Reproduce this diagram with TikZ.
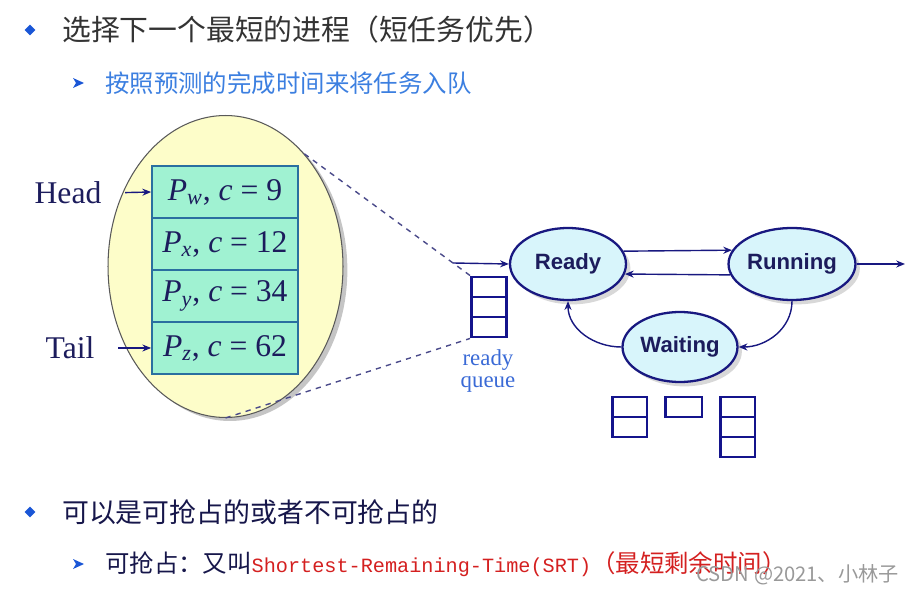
\documentclass[tikz,border=0pt]{standalone}
\usepackage{fontspec}
\setmainfont{Liberation Serif}
\setsansfont{Liberation Sans}
\setmonofont{Liberation Mono}
\newfontfamily\cjk{Noto Sans CJK SC}
\usepackage{tikz}
\usetikzlibrary{positioning,arrows.meta,shapes.geometric,shadows}
\definecolor{slidegray}{RGB}{51,51,51}
\definecolor{subblue}{RGB}{60,127,224}
\definecolor{bulletblue}{RGB}{26,86,214}
\definecolor{inkblue}{RGB}{28,28,92}
\definecolor{linknavy}{RGB}{24,24,128}
\definecolor{slotnavy}{RGB}{20,20,140}
\definecolor{srtred}{RGB}{212,32,32}
\definecolor{lensfill}{RGB}{253,253,201}
\definecolor{queuefill}{RGB}{160,242,210}
\definecolor{queueedge}{RGB}{42,111,160}
\definecolor{statefill}{RGB}{216,245,251}
\definecolor{dashblue}{RGB}{74,74,138}
\definecolor{labelblue}{RGB}{58,106,214}
\def\hird{\textcolor{srtred}}
\def\pq#1#2{\textit{P}\textsubscript{\textit{#1}}, \textit{c} = #2}
\tikzset{lensnode/.style={ellipse, draw=black!65, fill=lensfill, line width=0.6pt,
  minimum width=4.7cm, minimum height=6.04cm, inner sep=0pt,
  drop shadow={shadow xshift=2.5pt, shadow yshift=-2pt, fill=black!45}}}
\tikzset{qbox/.style={rectangle, draw=queueedge, fill=queuefill, line width=1pt,
  minimum width=2.92cm, minimum height=1.04cm, inner sep=0pt, text=inkblue,
  font=\fontsize{18}{20}\selectfont}}
\tikzset{slot/.style={rectangle, draw=slotnavy, line width=1.7pt,
  minimum width=0.7cm, minimum height=0.4cm, inner sep=0pt}}
\tikzset{statenode/.style={ellipse, draw=linknavy, fill=statefill, line width=1.3pt,
  minimum width=2.32cm, minimum height=1.44cm, inner sep=0pt, text=inkblue,
  font=\sffamily\bfseries\fontsize{12.6}{14}\selectfont,
  drop shadow={shadow xshift=2.5pt, shadow yshift=-2.5pt, fill=black!30}}}
\tikzset{bulletdia/.style={diamond, fill=bulletblue, minimum size=0.22cm, inner sep=0pt}}
\tikzset{flow/.style={->, draw=linknavy, line width=0.8pt}}

\begin{document}
\begin{tikzpicture}[x=0.02cm, y=0.02cm, >={Stealth[length=5pt,width=4pt]}]
  \useasboundingbox (0,0) rectangle (913,592);
  % top bullets
  \node[bulletdia] (dot1) at (30,562) {};
  \node[anchor=west, text=slidegray, font=\cjk\fontsize{16.4}{18}\selectfont] (title) at (56,562)
    {选择下一个最短的进程（短任务优先）};
  \fill[bulletblue] (73,514) -- (84,509) -- (73,504) -- (76,509) -- cycle;
  \node[anchor=west, text=subblue, font=\cjk\fontsize{13.9}{16}\selectfont] (sub) at (99,509)
    {按照预测的完成时间来将任务入队};

  % magnified queue
  \node[lensnode] (lens) at (225.5,325.5) {};
  \node[qbox] (qw) at (225,400) {\pq{w}{9}};
  \node[qbox] (qx) at (225,348) {\pq{x}{12}};
  \node[qbox] (qy) at (225,296) {\pq{y}{34}};
  \node[qbox] (qz) at (225,244) {\pq{z}{62}};
  \node[text=inkblue, font=\fontsize{18}{20}\selectfont] (head) at (68,399) {Head};
  \node[text=inkblue, font=\fontsize{18}{20}\selectfont] (tail) at (70,244) {Tail};
  \draw[flow, shorten <=10pt] (head.east) -- (qw.west);
  \draw[flow, shorten <=10pt] (tail.east) -- (qz.west);

  % ready queue
  \node[slot] (rq1) at (489,305) {};
  \node[slot] (rq2) at (489,285) {};
  \node[slot] (rq3) at (489,265) {};
  \node[text=labelblue, align=center, font=\fontsize{13}{12.5}\selectfont] (rqlabel) at (488,221)
    {ready\\queue};
  \draw[dashblue, dashed, line width=0.8pt] (lens.55) -- (rq1.north west);
  \draw[dashblue, dashed, line width=0.8pt] (lens.south) -- (rq3.south west);

  % states
  \node[statenode] (ready) at (568,328) {Ready};
  \node[statenode] (running) at (792,328) {Running};
  \node[statenode, minimum width=2.3cm, minimum height=1.4cm] (waiting) at (680,245) {Waiting};
  \coordinate (in) at (453,329);
  \coordinate (exit) at (905,328);
  \draw[flow] (in) -- (ready.west);
  \draw[flow] (ready.13) -- (running.167);
  \draw[flow] (running.190) -- (ready.-10);
  \draw[flow] (running.east) -- (exit);
  \draw[flow] (running.south) to[out=-90, in=0] (waiting.east);
  \draw[flow] (waiting.west) to[out=180, in=-90] (ready.south);

  % waiting queues
  \node[slot] (wa1) at (629.5,185) {};
  \node[slot] (wa2) at (629.5,165) {};
  \node[slot, minimum width=0.74cm] (wb1) at (683.5,185) {};
  \node[slot] (wc1) at (737.5,185) {};
  \node[slot] (wc2) at (737.5,165) {};
  \node[slot] (wc3) at (737.5,145) {};

  % bottom bullets
  \node[bulletdia] (dot2) at (30,80) {};
  \node[anchor=west, text=inkblue!80!black, font=\cjk\fontsize{15.3}{17}\selectfont] (pre) at (56,80)
    {可以是可抢占的或者不可抢占的};
  \fill[bulletblue] (73,33) -- (84,28) -- (73,23) -- (76,28) -- cycle;
  \node[anchor=west, text=inkblue!80!black, font=\cjk\fontsize{13.9}{16}\selectfont] (srt) at (99,28)
    {可抢占：又叫{\ttfamily\fontsize{11.5}{13}\selectfont\hird{Shortest-Remaining-Time(SRT)}}\hird{（最短剩余时间）}};
  \node[anchor=east, text=black!40, font=\cjk\fontsize{11.5}{13}\selectfont] (mark) at (905,17)
    {CSDN @2021、小林子};
\end{tikzpicture}
\end{document}
